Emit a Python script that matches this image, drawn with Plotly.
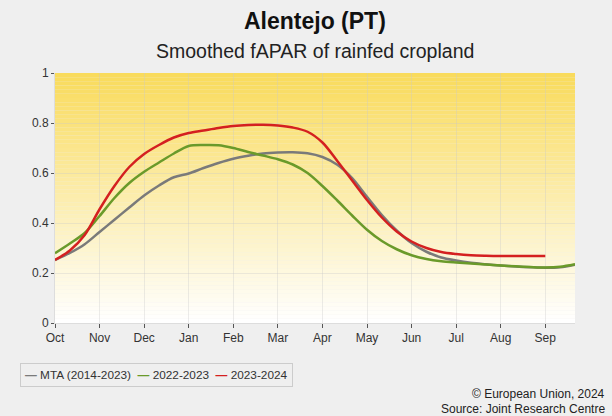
import plotly.graph_objects as go

# dekads from 1 Oct (index 0) to end of Sep (index 35)
dekads = list(range(36))
tick_pos = [0, 3, 6, 9, 12, 15, 18, 21, 24, 27, 30, 33]
tick_labels = ["Oct", "Nov", "Dec", "Jan", "Feb", "Mar", "Apr", "May", "Jun", "Jul", "Aug", "Sep"]

mta = [0.252, 0.28, 0.315, 0.364, 0.413, 0.462, 0.51, 0.55, 0.583, 0.598,
       0.62, 0.64, 0.657, 0.669, 0.678, 0.682, 0.683, 0.679, 0.664, 0.633,
       0.58, 0.505, 0.432, 0.37, 0.32, 0.285, 0.262, 0.25, 0.241, 0.235,
       0.23, 0.226, 0.223, 0.221, 0.223, 0.233]
s2022 = [0.279, 0.318, 0.36, 0.428, 0.50, 0.56, 0.605, 0.642, 0.678, 0.708,
         0.712, 0.711, 0.70, 0.684, 0.67, 0.655, 0.634, 0.60, 0.548, 0.49,
         0.43, 0.373, 0.328, 0.295, 0.271, 0.256, 0.247, 0.242, 0.238, 0.234,
         0.23, 0.227, 0.224, 0.222, 0.225, 0.235]
s2023 = [0.252, 0.29, 0.352, 0.455, 0.548, 0.624, 0.676, 0.712, 0.742, 0.76,
         0.77, 0.78, 0.788, 0.792, 0.793, 0.79, 0.782, 0.765, 0.722, 0.648,
         0.57, 0.492, 0.422, 0.366, 0.326, 0.30, 0.284, 0.276, 0.271, 0.269,
         0.268, 0.268, 0.268, 0.268]

names = ["MTA (2014-2023)", "2022-2023", "2023-2024"]
colors = ["#7a7a7a", "#6a9a2a", "#d42020"]

fig = go.Figure()
for name, col, ys in zip(names, colors, [mta, s2022, s2023]):
    fig.add_trace(go.Scatter(x=dekads[:len(ys)], y=ys, mode="lines", name=name,
                             showlegend=False,
                             line=dict(color=col, width=2.5, shape="spline", smoothing=0.9)))

# gradient background of plot area (yellow top -> white bottom)
n = 60
top = (249, 219, 92)
bot = (255, 255, 255)
shapes = []
for i in range(n):
    t = i / (n - 1)
    c = tuple(round(bot[k] + (top[k] - bot[k]) * t) for k in range(3))
    shapes.append(dict(type="rect", xref="paper", yref="paper", x0=0, x1=1,
                       y0=i / n, y1=(i + 1) / n, line=dict(width=0),
                       fillcolor="rgb(%d,%d,%d)" % c, layer="below"))

legend_text = "&nbsp;&nbsp;".join(
    "<span style='color:%s'><b>—</b></span> %s" % (c, nm) for c, nm in zip(colors, names))

fig.update_layout(
    width=612, height=416,
    paper_bgcolor="#efefef", plot_bgcolor="rgba(0,0,0,0)",
    margin=dict(l=55, r=37, t=73, b=93),
    shapes=shapes,
    font=dict(family="Liberation Sans, Arial, sans-serif", size=12, color="#333333"),
    showlegend=False,
    annotations=[
        dict(text="<b>Alentejo (PT)</b>", xref="paper", yref="paper", x=0.5, y=1,
             xanchor="center", yanchor="middle", yshift=52, showarrow=False,
             font=dict(size=23, color="#111111")),
        dict(text="Smoothed fAPAR of rainfed cropland", xref="paper", yref="paper",
             x=0.5, y=1, xanchor="center", yanchor="middle", yshift=22, showarrow=False,
             font=dict(size=19.5, color="#222222")),
        dict(text=legend_text, xref="paper", yref="paper", x=0, y=0,
             xanchor="left", yanchor="top", xshift=-35, yshift=-40, showarrow=False,
             bgcolor="#efefef", bordercolor="#cccccc", borderwidth=1, borderpad=4,
             font=dict(size=11.8, color="#333333")),
        dict(text="© European Union, 2024", xref="paper", yref="paper", x=1, y=0,
             xanchor="right", yanchor="top", xshift=32, yshift=-62, showarrow=False,
             font=dict(size=12, color="#222222")),
        dict(text="Source: Joint Research Centre", xref="paper", yref="paper", x=1, y=0,
             xanchor="right", yanchor="top", xshift=32, yshift=-77, showarrow=False,
             font=dict(size=12, color="#222222")),
    ],
)
fig.update_xaxes(range=[0, 35], tickvals=tick_pos, ticktext=tick_labels,
                 showgrid=True, gridcolor="rgba(200,200,200,0.35)", gridwidth=1,
                 ticks="outside", ticklen=4, tickcolor="#555555",
                 showline=True, linecolor="#dddddd", linewidth=1, zeroline=False,
                 tickfont=dict(size=12, color="#333333"))
fig.update_yaxes(range=[0, 1], tickvals=[0, 0.2, 0.4, 0.6, 0.8, 1],
                 ticktext=["0", "0.2", "0.4", "0.6", "0.8", "1"],
                 showgrid=True, gridcolor="rgba(200,200,200,0.35)", gridwidth=1,
                 ticks="outside", ticklen=3, tickcolor="#555555",
                 showline=True, linecolor="#dddddd", linewidth=1, zeroline=False,
                 tickfont=dict(size=12, color="#333333"))

fig.write_html("out.html", config={"displayModeBar": False},
               post_script="document.body.style.margin='0';")
